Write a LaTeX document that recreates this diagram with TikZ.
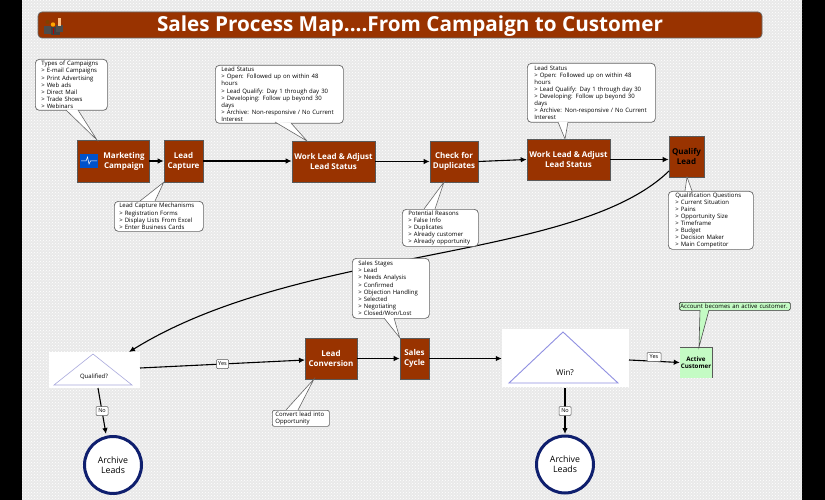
\documentclass[tikz,border=0pt]{standalone}
\usepackage{fontspec}
\setmainfont{Open Sans}
\usetikzlibrary{arrows.meta,patterns}
\definecolor{rust}{HTML}{993300}
\definecolor{pagebg}{HTML}{E9E9E9}
\definecolor{tri}{HTML}{A9A9DC}
\definecolor{ringblue}{HTML}{0F1F6E}
\definecolor{mint}{HTML}{C4FBC4}
\tikzset{
  x=1pt,y=-1pt,
  stepbox/.style={draw=black!65,line width=.6pt,fill=rust,text=white,inner sep=0pt,align=center,font=\fontsize{8}{10}\selectfont\bfseries},
  note/.style={draw=black!60,line width=.7pt,fill=white,rounded corners=4pt,inner sep=0pt,align=left,font=\fontsize{6}{7.1}\selectfont,text=black},
  flow/.style={draw=black,line width=1.1pt,-{Latex[length=6pt,width=5.5pt]}},
  tag/.style={draw=black!65,line width=.5pt,fill=white,rounded corners=1pt,inner xsep=1pt,inner ysep=0pt,minimum width=12pt,minimum height=9pt,font=\fontsize{5.5}{6}\selectfont},
  ring/.style={circle,draw=ringblue,line width=3pt,fill=white,inner sep=0pt,minimum size=57pt,align=center,font=\fontsize{8.8}{9.8}\selectfont},
  panel/.style={fill=white,draw=none,inner sep=0pt},
}
\newcommand{\tailshape}[4][black!60]{%
  \fill[white] (#2) -- (#4) -- (#3) -- cycle;
  \draw[#1,line width=.6pt] (#2) -- (#4) -- (#3);}
\begin{document}
\begin{tikzpicture}
\useasboundingbox (0,0) rectangle (825,500);
\fill[black] (0,0) rectangle (825,500);
\fill[pagebg] (22,0) rectangle (802,500);
\fill[pattern=crosshatch dots,pattern color=white] (22,0) rectangle (802,500);

% title
\node[draw=black!60,line width=.7pt,fill=rust,rounded corners=4pt,minimum width=724pt,minimum height=26pt,inner sep=0pt] (titlebar) at (400,25) {};
\node[text=white,font=\fontsize{20.7}{22}\selectfont\bfseries,inner sep=0pt] (titletext) at (410,26) {Sales Process Map....From Campaign to Customer};
% people icon
\fill[black!70] (44,26) rectangle (51,34);
\fill[black!75] (51,27) rectangle (60,35);
\fill[black!70] (56,25) rectangle (63,32);
\fill[orange!50!black] (47.5,22) circle (2pt);
\fill[orange!70!yellow] (53,24.5) circle (2.2pt);
\fill[orange!50!white] (58,18) rectangle (60.5,26);
\fill[red!70!black] (52.5,28) rectangle (53.5,34);

% process boxes
\node[stepbox,minimum width=72pt,minimum height=42pt] (mc) at (113,161) {};
\node[text=white,inner sep=0pt,align=center,font=\fontsize{8}{10}\selectfont\bfseries] (mctext) at (124,161) {Marketing\\Campaign};
\fill[blue!60!cyan!80!black] (80,154) rectangle (98,168);
\draw[white,line width=.5pt] (81,161) -- (86,161) -- (87.5,157) -- (89,164) -- (90.5,161) -- (97,161);
\node[stepbox,minimum width=39pt,minimum height=42pt] (lc) at (183.5,161) {Lead\\Capture};
\node[stepbox,minimum width=83pt,minimum height=41pt] (wl1) at (333.5,161.5) {Work Lead \& Adjust\\Lead Status};
\node[stepbox,minimum width=48pt,minimum height=41pt] (cd) at (454,161.5) {Check for\\Duplicates};
\node[stepbox,minimum width=83pt,minimum height=41pt] (wl2) at (568.5,159.5) {Work Lead \& Adjust\\Lead Status};
\node[stepbox,text=black,minimum width=35pt,minimum height=41pt] (ql) at (686.5,156.5) {Qualify\\Lead};
\node[stepbox,minimum width=52pt,minimum height=41pt] (lcv) at (331,358.5) {Lead\\Conversion};
\node[stepbox,minimum width=29pt,minimum height=41pt] (sc) at (414.5,358.5) {Sales\\Cycle};
\node[fill=mint,minimum width=32pt,minimum height=31pt,inner sep=0pt,align=center,font=\fontsize{6.2}{7.2}\selectfont\bfseries] (ac) at (696,362.5) {Active\\Customer};
\draw[black!65,line width=.6pt] (ac.north west) -- (ac.north east) -- (ac.south east);

% decisions
\node[panel,minimum width=91pt,minimum height=36pt] (qd) at (94.5,370) {};
\draw[tri,line width=.6pt] (93,354) -- (132,385) -- (54,385) -- cycle;
\node[inner sep=0pt,font=\fontsize{6}{7}\selectfont] (qdt) at (94,377) {Qualified?};
\node[panel,minimum width=127pt,minimum height=58pt] (wd) at (565.5,358) {};
\draw[tri!85!blue,line width=.9pt] (563,332) -- (618,383) -- (509,383) -- cycle;
\node[inner sep=0pt,font=\fontsize{8}{9}\selectfont] (wdt) at (565,373) {Win?};

% archives
\node[ring] (ar1) at (113,465) {Archive\\Leads};
\node[ring] (ar2) at (565,464.5) {Archive\\Leads};

% connectors
\draw[flow] (mc.east) -- (lc.west);
\draw[flow] (lc.east) -- (lc.east -| wl1.west);
\draw[flow] (wl1.east) -- (wl1.east -| cd.west);
\draw[flow] (cd.east) -- (wl2.west);
\draw[flow] (wl2.east) -- (ql.west |- wl2.east);
\coordinate (qlout) at (669,171);
\coordinate (qdin) at (129,352);
\draw[flow] (qlout) .. controls (575,262) and (300,246) .. (qdin);
\draw[flow] (lcv.east) -- (sc.west);
\draw[flow] (sc.east) -- (sc.east -| wd.west);
\coordinate (qout) at (140,368);
\coordinate (lin) at (305,360);
\draw[flow] (qout) -- node[tag,pos=.5] (y1) {Yes} (lin);
\coordinate (qno) at (98,388);
\coordinate (ar1in) at (106,434);
\draw[flow] (qno) -- node[tag,pos=.5] (n1) {No} (ar1in);
\coordinate (wno) at (565,388);
\coordinate (ar2in) at (565,434);
\draw[flow] (wno) -- node[tag,pos=.5] (n2) {No} (ar2in);
\coordinate (wout) at (629,360);
\draw[flow] (wout) -- (ac.west);
\node[tag,minimum width=14pt] (y2) at (654,357) {Yes};

% callouts
\node[note,anchor=north west,minimum width=72pt,minimum height=51pt,text width=68pt] (c1) at (35,59) {\hspace*{4pt}Types of Campaigns\\\hspace*{4pt}> E-mail Campaigns\\\hspace*{4pt}> Print Advertising\\\hspace*{4pt}> Web ads\\\hspace*{4pt}> Direct Mail\\\hspace*{4pt}> Trade Shows\\\hspace*{4pt}> Webinars};
\tailshape{66,110}{78,110}{97,140}
\node[note,anchor=north west,minimum width=89pt,minimum height=30pt,text width=85pt] (c2) at (114,201) {\hspace*{3pt}Lead Capture Mechanisms\\\hspace*{3pt}> Registration Forms\\\hspace*{3pt}> Display Lists From Excel\\\hspace*{3pt}> Enter Business Cards};
\tailshape{140,201}{155,201}{lc.south west}
\node[note,anchor=north west,minimum width=128pt,minimum height=58pt,text width=124pt] (c3) at (215,65) {\hspace*{4pt}Lead Status\\\hspace*{4pt}> Open: Followed up on within 48\\\hspace*{4pt}hours\\\hspace*{4pt}> Lead Qualify: Day 1 through day 30\\\hspace*{4pt}> Developing: Follow up beyond 30\\\hspace*{4pt}days\\\hspace*{4pt}> Archive: Non-responsive / No Current\\\hspace*{4pt}Interest};
\tailshape{275,122}{291,123}{307,141}
\node[note,anchor=north west,minimum width=76pt,minimum height=37pt,text width=72pt] (c4) at (402,209) {\hspace*{4pt}Potential Reasons\\\hspace*{4pt}> False Info\\\hspace*{4pt}> Duplicates\\\hspace*{4pt}> Already customer\\\hspace*{4pt}> Already opportunity};
\tailshape{424,209}{435,209}{444,182}
\node[note,anchor=north west,minimum width=128pt,minimum height=59pt,text width=124pt] (c5) at (527,63) {\hspace*{5pt}Lead Status\\\hspace*{5pt}> Open: Followed up on within 48\\\hspace*{5pt}hours\\\hspace*{5pt}> Lead Qualify: Day 1 through day 30\\\hspace*{5pt}> Developing: Follow up beyond 30\\\hspace*{5pt}days\\\hspace*{5pt}> Archive: Non-responsive / No Current\\\hspace*{5pt}Interest};
\tailshape{558,122}{568,122}{565,139}
\node[note,anchor=north west,minimum width=85pt,minimum height=58pt,text width=81pt] (c6) at (668,191) {\hspace*{5pt}Qualification Questions\\\hspace*{5pt}> Current Situation\\\hspace*{5pt}> Pains\\\hspace*{5pt}> Opportunity Size\\\hspace*{5pt}> Timeframe\\\hspace*{5pt}> Budget\\\hspace*{5pt}> Decision Maker\\\hspace*{5pt}> Main Competitor};
\tailshape{685,191}{692,191}{687,177}
\node[note,anchor=north west,minimum width=77pt,minimum height=60pt,text width=73pt] (c7) at (352,258) {\hspace*{4pt}Sales Stages\\\hspace*{4pt}> Lead\\\hspace*{4pt}> Needs Analysis\\\hspace*{4pt}> Confirmed\\\hspace*{4pt}> Objection Handling\\\hspace*{4pt}> Selected\\\hspace*{4pt}> Negotiating\\\hspace*{4pt}> Closed/Won/Lost};
\tailshape{384,318}{394,318}{sc.north west}
\node[note,anchor=north west,minimum width=57pt,minimum height=16pt,text width=53pt,rounded corners=2pt] (c8) at (272,410) {\hspace*{1pt}Convert lead into\\\hspace*{1pt}Opportunity};
\tailshape{286,410}{298,410}{314,379}
\node[note,draw=black!80,fill=mint,anchor=north west,minimum width=111pt,minimum height=8pt,text width=109pt,rounded corners=1.5pt] (c9) at (679,302) {Account becomes an active customer.};
\fill[mint] (700,310) -- (699,347) -- (709,310) -- cycle;
\draw[black!70,line width=.6pt] (700,310) -- (699,347) -- (709,310);
\end{tikzpicture}
\end{document}
